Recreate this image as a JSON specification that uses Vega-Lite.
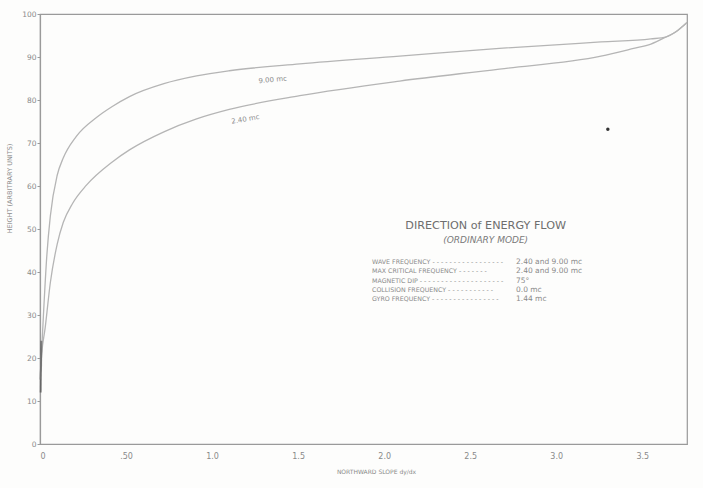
{
  "$schema": "https://vega.github.io/schema/vega-lite/v6.json",
  "width": 647,
  "height": 430,
  "autosize": {"type": "none"},
  "padding": {"left": 40, "top": 14, "right": 16, "bottom": 44},
  "background": "#fdfdfc",
  "config": {
    "view": {"stroke": "#9a9a9a", "strokeWidth": 1.2},
    "font": "DejaVu Sans",
    "axis": {"grid": false, "domainColor": "#9a9a9a", "domainWidth": 1.2, "tickColor": "#9a9a9a", "labelColor": "#8a8a8a", "titleColor": "#8a8a8a", "labelFont": "DejaVu Sans", "titleFont": "DejaVu Sans", "titleFontWeight": "normal"}
  },
  "datasets": {
    "curves": [
      {"series": "9.00 mc", "x": 0, "y": 15},
      {"series": "9.00 mc", "x": 0.01, "y": 22},
      {"series": "9.00 mc", "x": 0.02, "y": 30},
      {"series": "9.00 mc", "x": 0.04, "y": 44},
      {"series": "9.00 mc", "x": 0.06, "y": 53},
      {"series": "9.00 mc", "x": 0.1, "y": 62.5},
      {"series": "9.00 mc", "x": 0.135, "y": 66.5},
      {"series": "9.00 mc", "x": 0.21, "y": 71.5},
      {"series": "9.00 mc", "x": 0.33, "y": 76},
      {"series": "9.00 mc", "x": 0.42, "y": 78.5},
      {"series": "9.00 mc", "x": 0.52, "y": 80.8},
      {"series": "9.00 mc", "x": 0.72, "y": 83.8},
      {"series": "9.00 mc", "x": 0.91, "y": 85.6},
      {"series": "9.00 mc", "x": 1.1, "y": 86.8},
      {"series": "9.00 mc", "x": 1.51, "y": 88.4},
      {"series": "9.00 mc", "x": 2.09, "y": 90.2},
      {"series": "9.00 mc", "x": 2.67, "y": 92},
      {"series": "9.00 mc", "x": 3.26, "y": 93.5},
      {"series": "9.00 mc", "x": 3.55, "y": 94.2},
      {"series": "9.00 mc", "x": 3.64, "y": 94.7},
      {"series": "9.00 mc", "x": 3.7, "y": 96},
      {"series": "9.00 mc", "x": 3.76, "y": 98},
      {"series": "2.40 mc", "x": 0, "y": 15},
      {"series": "2.40 mc", "x": 0.01, "y": 21},
      {"series": "2.40 mc", "x": 0.03, "y": 27},
      {"series": "2.40 mc", "x": 0.06, "y": 37.5},
      {"series": "2.40 mc", "x": 0.1, "y": 46.5},
      {"series": "2.40 mc", "x": 0.135, "y": 51.5},
      {"series": "2.40 mc", "x": 0.19, "y": 56},
      {"series": "2.40 mc", "x": 0.27, "y": 60.2},
      {"series": "2.40 mc", "x": 0.42, "y": 65.6},
      {"series": "2.40 mc", "x": 0.52, "y": 68.4},
      {"series": "2.40 mc", "x": 0.72, "y": 72.6},
      {"series": "2.40 mc", "x": 0.91, "y": 75.6},
      {"series": "2.40 mc", "x": 1.1, "y": 77.8},
      {"series": "2.40 mc", "x": 1.51, "y": 81},
      {"series": "2.40 mc", "x": 2.09, "y": 84.4},
      {"series": "2.40 mc", "x": 2.67, "y": 87.2},
      {"series": "2.40 mc", "x": 3.26, "y": 90.2},
      {"series": "2.40 mc", "x": 3.45, "y": 92},
      {"series": "2.40 mc", "x": 3.55, "y": 93},
      {"series": "2.40 mc", "x": 3.64, "y": 94.7},
      {"series": "2.40 mc", "x": 3.7, "y": 96},
      {"series": "2.40 mc", "x": 3.76, "y": 98}
    ],
    "blob": [
      {"x": 0.004, "y": 12},
      {"x": 0.008, "y": 24}
    ],
    "curveLabels": [
      {"text": "9.00 mc", "x": 1.35, "y": 85.6, "angle": -5},
      {"text": "2.40 mc", "x": 1.19, "y": 76.4, "angle": -10}
    ],
    "heading": [
      {"text": "DIRECTION of ENERGY FLOW", "x": 2.59, "y": 50.8, "kind": "title"},
      {"text": "(ORDINARY MODE)", "x": 2.59, "y": 47.4, "kind": "sub"}
    ],
    "legend": [
      {"label": "WAVE FREQUENCY - - - - - - - - - - - - - - - - -", "value": "2.40 and 9.00 mc", "y": 42.4},
      {"label": "MAX CRITICAL FREQUENCY - - - - - - -", "value": "2.40 and 9.00 mc", "y": 40.2},
      {"label": "MAGNETIC DIP - - - - - - - - - - - - - - - - - - - -", "value": "75°", "y": 38.0},
      {"label": "COLLISION FREQUENCY - - - - - - - - - - -", "value": "0.0 mc", "y": 35.9},
      {"label": "GYRO FREQUENCY - - - - - - - - - - - - - - - -", "value": "1.44 mc", "y": 33.8}
    ],
    "speck": [{"x": 3.3, "y": 73.2}]
  },
  "layer": [
    {
      "data": {"name": "curves"},
      "mark": {"type": "line", "stroke": "#b5b5b5", "strokeWidth": 1.3, "interpolate": "monotone"},
      "encoding": {
        "x": {"field": "x", "type": "quantitative", "scale": {"domain": [0, 3.76], "nice": false, "zero": false},
          "axis": {"values": [0, 0.5, 1, 1.5, 2, 2.5, 3, 3.5], "labelExpr": "datum.value == 0 ? '0' : datum.value == 0.5 ? '.50' : format(datum.value, '.1f')", "labelFontSize": 8, "tickSize": 0, "labelPadding": 8, "title": "NORTHWARD SLOPE  dy/dx", "titleFontSize": 6, "titlePadding": 8, "titleX": 336}},
        "y": {"field": "y", "type": "quantitative", "scale": {"domain": [0, 100], "nice": false},
          "axis": {"values": [0, 10, 20, 30, 40, 50, 60, 70, 80, 90, 100], "labelFontSize": 7.5, "tickSize": 3, "labelPadding": 1, "title": "HEIGHT (ARBITRARY UNITS)", "titleFontSize": 6.5, "titlePadding": 9, "titleY": 174}},
        "detail": {"field": "series"}
      }
    },
    {
      "data": {"name": "blob"},
      "mark": {"type": "line", "stroke": "#444444", "strokeWidth": 2, "opacity": 0.6},
      "encoding": {
        "x": {"field": "x", "type": "quantitative"},
        "y": {"field": "y", "type": "quantitative"}
      }
    },
    {
      "data": {"name": "curveLabels"},
      "mark": {"type": "text", "fontSize": 7, "fill": "#8c8c8c", "align": "center", "baseline": "top"},
      "encoding": {
        "x": {"field": "x", "type": "quantitative"},
        "y": {"field": "y", "type": "quantitative"},
        "text": {"field": "text"},
        "angle": {"field": "angle", "type": "quantitative", "scale": null}
      }
    },
    {
      "data": {"name": "heading"},
      "transform": [{"filter": "datum.kind == 'title'"}],
      "mark": {"type": "text", "fontSize": 11.2, "fill": "#6e6e6e", "align": "center", "baseline": "middle"},
      "encoding": {
        "x": {"field": "x", "type": "quantitative"},
        "y": {"field": "y", "type": "quantitative"},
        "text": {"field": "text"}
      }
    },
    {
      "data": {"name": "heading"},
      "transform": [{"filter": "datum.kind == 'sub'"}],
      "mark": {"type": "text", "fontSize": 9, "fontStyle": "italic", "fill": "#7a7a7a", "align": "center", "baseline": "middle"},
      "encoding": {
        "x": {"field": "x", "type": "quantitative"},
        "y": {"field": "y", "type": "quantitative"},
        "text": {"field": "text"}
      }
    },
    {
      "data": {"name": "legend"},
      "mark": {"type": "text", "fontSize": 6.3, "fill": "#8a8a8a", "align": "left", "baseline": "middle", "x": 332},
      "encoding": {
        "y": {"field": "y", "type": "quantitative"},
        "text": {"field": "label"}
      }
    },
    {
      "data": {"name": "legend"},
      "mark": {"type": "text", "fontSize": 7.5, "fill": "#8a8a8a", "align": "left", "baseline": "middle", "x": 476},
      "encoding": {
        "y": {"field": "y", "type": "quantitative"},
        "text": {"field": "value"}
      }
    },
    {
      "data": {"name": "speck"},
      "mark": {"type": "point", "shape": "circle", "filled": true, "fill": "#333333", "size": 12, "opacity": 1},
      "encoding": {
        "x": {"field": "x", "type": "quantitative"},
        "y": {"field": "y", "type": "quantitative"}
      }
    }
  ]
}
